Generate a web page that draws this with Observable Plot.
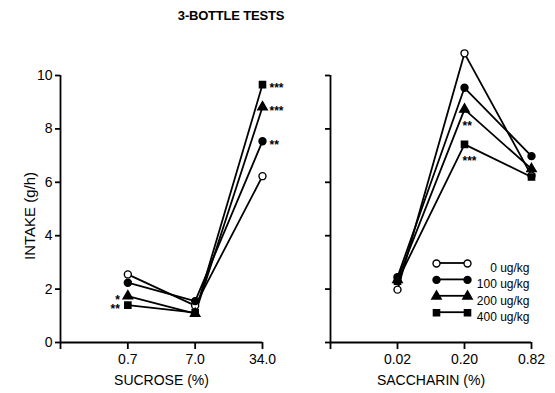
<!DOCTYPE html>
<html><head><meta charset="utf-8">
<script src="https://cdn.jsdelivr.net/npm/d3@7"></script>
<script src="https://cdn.jsdelivr.net/npm/@observablehq/plot@0.6"></script>
<style>
body{margin:0;background:#fff;}
#wrap{position:relative;width:555px;height:393px;font-family:"Liberation Sans",Arial,Helvetica,sans-serif;color:#000;}
#title{position:absolute;left:0;width:462px;top:8px;text-align:center;font-weight:bold;font-size:13px;letter-spacing:-0.2px;}
#charts{position:absolute;top:30px;left:0;display:flex;}
</style></head><body>
<div id="wrap"><div id="title">3-BOTTLE TESTS</div><div id="charts"></div></div>
<script>
// ---- data ----
const doses = ["0 ug/kg", "100 ug/kg", "200 ug/kg", "400 ug/kg"];
const sucroseLevels = ["0.7", "7.0", "34.0"];
const saccharinLevels = ["0.02", "0.20", "0.82"];
const yTicks = [0, 2, 4, 6, 8, 10];

const sucrose0   = [2.55, 1.38, 6.23];
const sucrose100 = [2.24, 1.55, 7.54];
const sucrose200 = [1.74, 1.08, 8.82];
const sucrose400 = [1.40, 1.12, 9.66];

const saccharin0   = [1.98, 10.83, 6.25];
const saccharin100 = [2.45, 9.54, 6.98];
const saccharin200 = [2.35, 8.73, 6.50];
const saccharin400 = [2.30, 7.42, 6.20];

// significance marks: [dose index, level index, text, side]
const sucroseNotes = [[3, 2, "***", "right"], [2, 2, "***", "right"], [1, 2, "**", "right"], [2, 0, "*", "left"], [3, 0, "**", "left"]];
const saccharinNotes = [[2, 1, "**", "below"], [3, 1, "***", "below"]];

// ---- styles ----
const symbols = ["circle", "circle", "triangle", "square"];
const fills = ["white", "black", "black", "black"];
const font = "'Liberation Sans', Arial, Helvetica, sans-serif";
const SW = 1.8;
const R = 3.5;

function toRows(series) {
  return series.flatMap((vals, k) => vals.map((v, j) => ({k, dose: doses[k], x: j + 1, y: v})));
}

function panel({levels, series, notes, width, marginLeft, marginRight, yLabels, xTitle, legend}) {
  const data = toRows(series);
  const noteRows = notes.map(([k, j, t, side]) => ({x: j + 1, y: series[k][j], t, side}));
  const noteStyle = {x: "x", y: "y", text: "t", fontSize: 12, fontWeight: "bold"};
  const marks = [
    Plot.ruleX([0], {y1: 0, y2: 10, strokeWidth: SW}),
    Plot.ruleY([0], {x1: 0, x2: 3, strokeWidth: SW}),
    Plot.axisX({ticks: [0, 1, 2, 3], tickFormat: d => d === 0 ? "" : levels[d - 1], tickSize: 7, tickPadding: 5, strokeWidth: SW, label: null, fontSize: 14}),
    Plot.axisY({ticks: yTicks, tickFormat: yLabels ? (d => String(d)) : (() => ""), tickSize: 5, tickPadding: 3, strokeWidth: SW, label: null, fontSize: 14}),
    Plot.line(data, {x: "x", y: "y", z: "dose", stroke: "black", strokeWidth: SW}),
    ...doses.map((d, k) => Plot.dot(data.filter(r => r.k === k), {x: "x", y: "y", symbol: symbols[k], r: R, fill: fills[k], stroke: "black", strokeWidth: 1.4})),
    Plot.text(noteRows.filter(n => n.side === "right"), {...noteStyle, textAnchor: "start", dx: 7, dy: 4}),
    Plot.text(noteRows.filter(n => n.side === "left"), {...noteStyle, textAnchor: "end", dx: -8, dy: 4}),
    Plot.text(noteRows.filter(n => n.side === "below"), {...noteStyle, textAnchor: "start", dx: -2, dy: 17}),
    Plot.text([xTitle], {frameAnchor: "bottom", text: d => d, dy: 42, fontSize: 14})
  ];
  if (yLabels) {
    marks.push(Plot.text(["INTAKE (g/h)"], {frameAnchor: "left", text: d => d, textAnchor: "middle", rotate: -90, dx: -30, dy: 7, fontSize: 15}));
  }
  if (legend) {
    const lx1 = 106, lx2 = 137, tx = 199, ly0 = 188, step = 16.4;
    marks.push((index, scales, values, dim) => {
      const g = d3.create("svg:g");
      doses.forEach((d, k) => {
        const y = dim.marginTop + ly0 + k * step;
        g.append("line").attr("x1", dim.marginLeft + lx1).attr("x2", dim.marginLeft + lx2)
          .attr("y1", y).attr("y2", y).attr("stroke", "black").attr("stroke-width", SW);
      });
      return g.node();
    });
    doses.forEach((d, k) => {
      const dy = ly0 + k * step;
      marks.push(Plot.dot([d], {frameAnchor: "top-left", dx: lx1, dy, symbol: symbols[k], r: R, fill: fills[k], stroke: "black", strokeWidth: 1.4}));
      marks.push(Plot.dot([d], {frameAnchor: "top-left", dx: lx2, dy, symbol: symbols[k], r: R, fill: fills[k], stroke: "black", strokeWidth: 1.4}));
      marks.push(Plot.text([d], {frameAnchor: "top-left", dx: tx, dy, text: t => t, textAnchor: "end", fontSize: 12}));
    });
  }
  return Plot.plot({
    width, height: 363,
    marginLeft, marginRight, marginTop: 45, marginBottom: 51,
    x: {domain: [0, 3]},
    y: {domain: [0, 10]},
    style: {fontFamily: font, fontSize: "14px", background: "white", color: "black", overflow: "visible"},
    marks
  });
}

const left = panel({
  levels: sucroseLevels,
  series: [sucrose0, sucrose100, sucrose200, sucrose400],
  notes: sucroseNotes,
  width: 292, marginLeft: 60, marginRight: 30,
  yLabels: true, xTitle: "SUCROSE (%)", legend: false
});
const right = panel({
  levels: saccharinLevels,
  series: [saccharin0, saccharin100, saccharin200, saccharin400],
  notes: saccharinNotes,
  width: 263, marginLeft: 38, marginRight: 24,
  yLabels: false, xTitle: "SACCHARIN (%)", legend: true
});
document.getElementById("charts").append(left, right);
</script>
</body></html>
